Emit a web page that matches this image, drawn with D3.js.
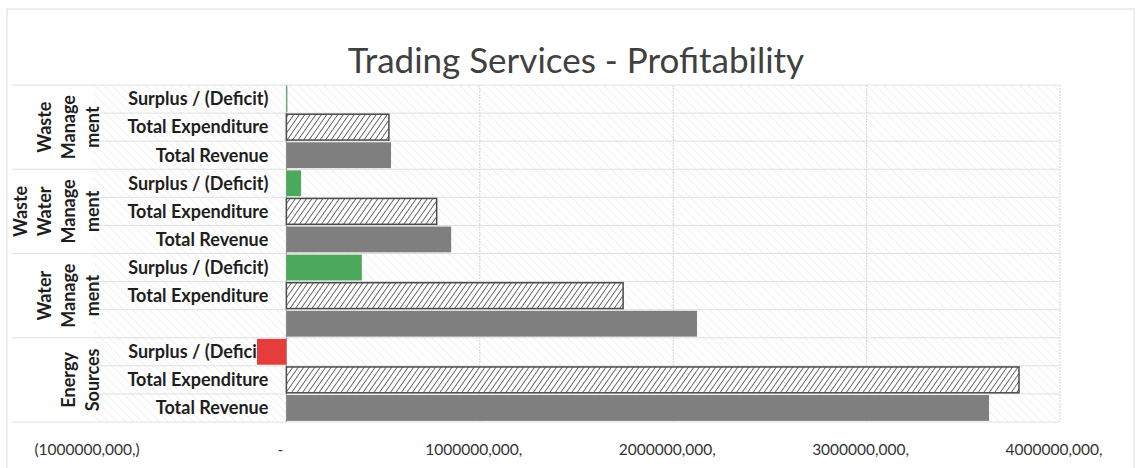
<!DOCTYPE html>
<html>
<head>
<meta charset="utf-8">
<script src="https://cdn.jsdelivr.net/npm/d3@7"></script>
<style>
  body { margin: 0; background: #fff; }
  svg { display: block; font-family: Lato, "Open Sans", sans-serif; }
</style>
</head>
<body>
<div id="chart"></div>
<script>
// values in millions
var groupNames = ['Waste Management', 'Waste Water Management', 'Water Management', 'Energy Sources'];
var groupLines = [['Waste', 'Manage', 'ment'], ['Waste', 'Water', 'Manage', 'ment'], ['Water', 'Manage', 'ment'], ['Energy', 'Sources']];
var rowLabels = ['Surplus / (Deficit)', 'Total Expenditure', 'Total Revenue'];
var surplus = [5, 76, 390, -152];
var expenditure = [530, 777, 1741, 3788];
var revenue = [541, 852, 2123, 3633];
var tickValues = [-1000, 0, 1000, 2000, 3000, 4000];
var tickLabels = ['(1000000,000,)', '-', '1000000,000,', '2000000,000,', '3000000,000,', '4000000,000,'];

var width = 1139, height = 468;

var rows = [];
groupNames.forEach(function (g, i) {
    rows.push({ group: i, kind: 'surplus', label: rowLabels[0], value: surplus[i] });
    rows.push({ group: i, kind: 'expenditure', label: rowLabels[1], value: expenditure[i] });
    // the revenue label of Water Management is missing in the original
    rows.push({ group: i, kind: 'revenue', label: g === 'Water Management' ? '' : rowLabels[2], value: revenue[i] });
});
rows.forEach(function (r, i) { r.id = 'r' + i; });

var svg = d3.select('#chart').append('svg')
    .attr('width', width)
    .attr('height', height);

var defs = svg.append('defs');
defs.append('pattern')
    .attr('id', 'bgHatch')
    .attr('patternUnits', 'userSpaceOnUse')
    .attr('width', 6).attr('height', 6)
    .attr('patternTransform', 'rotate(-45)')
    .append('line')
    .attr('x1', 0).attr('y1', 0).attr('x2', 0).attr('y2', 6)
    .attr('stroke', '#e8e8e8').attr('stroke-width', 1.2);

var hatch = defs.append('pattern')
    .attr('id', 'expHatch')
    .attr('patternUnits', 'userSpaceOnUse')
    .attr('width', 4.5).attr('height', 4.5)
    .attr('patternTransform', 'rotate(35)');
hatch.append('rect').attr('width', 4.5).attr('height', 4.5).attr('fill', '#fff');
hatch.append('line')
    .attr('x1', 0).attr('y1', 0).attr('x2', 0).attr('y2', 4.5)
    .attr('stroke', '#4a4a4a').attr('stroke-width', 1.6);

// chart border
svg.append('rect')
    .attr('x', 7).attr('y', 9)
    .attr('width', 1127).attr('height', 470)
    .attr('fill', 'none')
    .attr('stroke', '#dcdcdc');

var plot = { left: 93, right: 1060, top: 85, bottom: 422 };

var x = d3.scaleLinear().domain([-1000, 4000]).range([plot.left, plot.right]);
var y = d3.scaleBand().domain(rows.map(function (r) { return r.id; }))
    .range([plot.top, plot.bottom])
    .paddingInner(0.08).paddingOuter(0.04);

svg.append('rect')
    .attr('x', plot.left).attr('y', plot.top)
    .attr('width', plot.right - plot.left).attr('height', plot.bottom - plot.top)
    .attr('fill', 'url(#bgHatch)');

svg.append('text')
    .attr('x', 576).attr('y', 73)
    .attr('text-anchor', 'middle')
    .attr('font-size', 35)
    .attr('fill', '#404040')
    .text('Trading Services - Profitability');

// vertical gridlines
svg.append('g')
    .selectAll('line')
    .data(tickValues.filter(function (d) { return d > 0; }))
    .join('line')
    .attr('x1', function (d) { return x(d); }).attr('x2', function (d) { return x(d); })
    .attr('y1', plot.top).attr('y2', plot.bottom)
    .attr('stroke', '#d4d4d4')
    .attr('stroke-dasharray', '2,1');

// horizontal row separators
var step = y.step();
svg.append('g')
    .selectAll('line')
    .data(d3.range(rows.length + 1))
    .join('line')
    .attr('x1', function (i) { return i % 3 === 0 ? 12 : plot.left; })
    .attr('x2', plot.right)
    .attr('y1', function (i) { return plot.top + i * step; })
    .attr('y2', function (i) { return plot.top + i * step; })
    .attr('stroke', '#e0e0e0');

// zero axis
svg.append('line')
    .attr('x1', x(0)).attr('x2', x(0))
    .attr('y1', plot.top).attr('y2', plot.bottom)
    .attr('stroke', '#9a9a9a');

// category labels (bars are drawn afterwards, so the red bar covers its label like the original)
svg.append('g')
    .selectAll('text')
    .data(rows)
    .join('text')
    .attr('x', x(0) - 18)
    .attr('y', function (d) { return y(d.id) + y.bandwidth() / 2; })
    .attr('dy', '0.35em')
    .attr('text-anchor', 'end')
    .attr('font-size', 18)
    .attr('font-weight', 'bold')
    .attr('fill', '#1e1e1e')
    .text(function (d) { return d.label; });

// group labels, rotated, wrapped like Excel
var groupG = svg.append('g')
    .selectAll('g')
    .data(groupNames)
    .join('g')
    .attr('transform', function (d, i) {
        var yMid = plot.top + (i * 3 + 1.5) * step;
        return 'translate(0,' + yMid + ') rotate(-90)';
    });
groupG.each(function (d, i) {
    var lines = groupLines[i];
    var n = lines.length;
    d3.select(this).selectAll('text')
        .data(lines)
        .join('text')
        .attr('x', 0)
        .attr('y', function (t, j) { return 99 - (n - 1 - j) * 24; })
        .attr('text-anchor', 'middle')
        .attr('font-size', 18)
        .attr('font-weight', 'bold')
        .attr('fill', '#1e1e1e')
        .text(function (t) { return t; });
});

function fillFor(d) {
    if (d.kind === 'revenue') return '#7f7f7f';
    if (d.kind === 'expenditure') return 'url(#expHatch)';
    return d.value < 0 ? '#e53c3c' : '#4ca85a';
}

svg.append('g')
    .selectAll('rect')
    .data(rows)
    .join('rect')
    .attr('x', function (d) { return x(Math.min(0, d.value)); })
    .attr('y', function (d) { return y(d.id); })
    .attr('width', function (d) { return Math.abs(x(d.value) - x(0)); })
    .attr('height', y.bandwidth())
    .attr('fill', fillFor)
    .attr('stroke', function (d) { return d.kind === 'expenditure' ? '#4a4a4a' : 'none'; })
    .attr('stroke-width', 1.5);

// value axis labels
svg.append('g')
    .selectAll('text')
    .data(tickValues)
    .join('text')
    .attr('x', function (d) { return x(d) - 6; })
    .attr('y', 455)
    .attr('text-anchor', 'middle')
    .attr('font-size', 15.5)
    .attr('fill', '#333')
    .text(function (d, i) { return tickLabels[i]; });
</script>
</body>
</html>
